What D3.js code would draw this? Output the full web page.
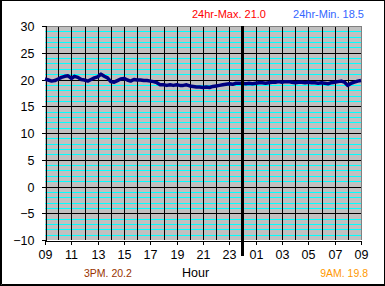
<!DOCTYPE html>
<html lang="en">
<head>
    <meta charset="UTF-8">
    <script src="https://d3js.org/d3.v7.min.js"></script>
    <title>24hr Temperature</title>
    <style>
        body { margin: 0; background: #fff; }
        text { font-family: "Liberation Sans", Arial, sans-serif; }
    </style>
</head>
<body>
    <script>
        // readings every 15 minutes, 09:00 -> 09:00 next day
        var times = [
            "09:00","09:15","09:30","09:45","10:00","10:15","10:30","10:45",
            "11:00","11:15","11:30","11:45","12:00","12:15","12:30","12:45",
            "13:00","13:15","13:30","13:45","14:00","14:15","14:30","14:45",
            "15:00","15:15","15:30","15:45","16:00","16:15","16:30","16:45",
            "17:00","17:15","17:30","17:45","18:00","18:15","18:30","18:45",
            "19:00","19:15","19:30","19:45","20:00","20:15","20:30","20:45",
            "21:00","21:15","21:30","21:45","22:00","22:15","22:30","22:45",
            "23:00","23:15","23:30","23:45","00:00","00:15","00:30","00:45",
            "01:00","01:15","01:30","01:45","02:00","02:15","02:30","02:45",
            "03:00","03:15","03:30","03:45","04:00","04:15","04:30","04:45",
            "05:00","05:15","05:30","05:45","06:00","06:15","06:30","06:45",
            "07:00","07:15","07:30","07:45","08:00","08:15","08:30","08:45",
            "09:00"
        ];
        var temps = [
            20.1, 19.9, 19.7, 19.8, 20.1, 20.4, 20.6, 20.7,
            20.2, 20.6, 20.4, 20.0, 19.9, 19.7, 20.0, 20.3,
            20.5, 21.0, 20.6, 20.3, 19.6, 19.5, 19.8, 20.1,
            20.2, 19.9, 19.7, 20.0, 19.9, 19.9, 19.8, 19.8,
            19.7, 19.6, 19.4, 19.0, 19.0, 18.9, 19.0, 18.9,
            19.0, 18.9, 18.9, 19.0, 18.8, 18.7, 18.6, 18.6,
            18.5, 18.6, 18.5, 18.7, 18.8, 18.9, 19.0, 19.1,
            19.2, 19.1, 19.3, 19.3, 19.3, 19.2, 19.3, 19.2,
            19.3, 19.4, 19.4, 19.3, 19.4, 19.5, 19.5, 19.6,
            19.5, 19.6, 19.6, 19.5, 19.4, 19.5, 19.5, 19.4,
            19.5, 19.4, 19.4, 19.3, 19.4, 19.3, 19.2, 19.4,
            19.5, 19.6, 19.7, 19.5, 18.9, 19.3, 19.5, 19.7,
            19.8
        ];
        var hourTicks = ["09","11","13","15","17","19","21","23","01","03","05","07","09"];
        var yTicks = [30, 25, 20, 15, 10, 5, 0, -5, -10];
        var notes = {
            max: "24hr-Max. 21.0",
            min: "24hr-Min. 18.5",
            pm: "3PM. 20.2",
            am: "9AM. 19.8"
        };

        var width = 385, height = 286;
        var plotLeft = 45, plotRight = 361, plotTop = 26, plotBottom = 240;

        // hours since the first reading
        var toHours = function(t, i) {
            var p = t.split(":");
            var h = +p[0] + p[1] / 60 - 9;
            if (h < 0 || (i > 0 && h === 0)) h += 24;
            return h;
        };
        var data = times.map(function(t, i) {
            return { h: toHours(t, i), v: temps[i] };
        });

        var xScale = d3.scaleLinear().domain([0, 24]).range([plotLeft, plotRight]);
        var yScale = d3.scaleLinear().domain([-10, 30]).range([plotBottom, plotTop]);
        var px = function(v) { return Math.round(v) + 0.5; };

        var svg = d3.select("body").append("svg")
            .attr("width", width)
            .attr("height", height);

        // outer frame
        svg.append("rect")
            .attr("x", 0.5).attr("y", 0.5)
            .attr("width", width - 1).attr("height", height - 1)
            .attr("fill", "#fff").attr("stroke", "#000");
        svg.append("path")
            .attr("d", "M1.5,1V284.5H384")
            .attr("fill", "none").attr("stroke", "#000");

        // plot background
        svg.append("rect")
            .attr("x", plotLeft).attr("y", plotTop)
            .attr("width", plotRight - plotLeft).attr("height", plotBottom - plotTop)
            .attr("fill", "#c0c0c0");

        var grid = svg.append("g").attr("shape-rendering", "crispEdges");

        // minor gridlines every degree
        grid.selectAll(".minor")
            .data(d3.range(-9, 30).filter(function(d) { return d % 5 !== 0; }))
            .enter().append("line")
            .attr("x1", plotLeft).attr("x2", plotRight)
            .attr("y1", function(d) { return px(yScale(d)); })
            .attr("y2", function(d) { return px(yScale(d)); })
            .attr("stroke", "#00ffff");

        // major gridlines
        grid.selectAll(".major")
            .data(yTicks.filter(function(d) { return d > -10 && d < 30; }))
            .enter().append("line")
            .attr("x1", plotLeft).attr("x2", plotRight)
            .attr("y1", function(d) { return px(yScale(d)); })
            .attr("y2", function(d) { return px(yScale(d)); })
            .attr("stroke", "#000");

        // hourly verticals
        grid.selectAll(".vert")
            .data(d3.range(1, 24))
            .enter().append("line")
            .attr("x1", function(d) { return px(xScale(d)); })
            .attr("x2", function(d) { return px(xScale(d)); })
            .attr("y1", plotTop).attr("y2", plotBottom)
            .attr("stroke", "#000");

        // plot border top / right
        grid.append("path")
            .attr("d", "M" + plotLeft + "," + (plotTop + 0.5) + "H" + (plotRight + 0.5) + "V" + plotBottom)
            .attr("fill", "none").attr("stroke", "#808080");

        // y axis
        var yAxis = d3.axisLeft(yScale)
            .tickValues(yTicks)
            .tickSize(4)
            .tickPadding(7)
            .tickFormat(d3.format("d"));
        var gy = svg.append("g")
            .attr("transform", "translate(" + (plotLeft + 0.5) + ",0)")
            .call(yAxis);

        // x axis
        var xAxis = d3.axisBottom(xScale)
            .tickValues(d3.range(0, 25, 2))
            .tickSize(4)
            .tickPadding(6)
            .tickFormat(function(d, i) { return hourTicks[i]; });
        var gx = svg.append("g")
            .attr("transform", "translate(0," + (plotBottom + 0.5) + ")")
            .call(xAxis);

        [gy, gx].forEach(function(g) {
            g.attr("shape-rendering", "crispEdges");
            g.select(".domain").attr("stroke", "#000");
            g.selectAll(".tick line").attr("stroke", "#000");
            g.selectAll("text")
                .attr("font-family", "'Liberation Sans', Arial, sans-serif")
                .attr("font-size", "12.5px")
                .attr("fill", "#000");
        });
        gy.selectAll(".tick").attr("transform", function(d) {
            return "translate(0," + px(yScale(d)) + ")";
        });
        gx.selectAll(".tick").attr("transform", function(d) {
            return "translate(" + px(xScale(d)) + ",0)";
        });

        // temperature trace
        var line = d3.line()
            .x(function(d) { return xScale(d.h); })
            .y(function(d) { return yScale(d.v); });

        svg.append("path")
            .datum(data)
            .attr("d", line)
            .attr("fill", "none")
            .attr("stroke", "#000080")
            .attr("stroke-width", 3.5)
            .attr("stroke-linejoin", "round");

        // midnight marker
        svg.append("line")
            .attr("x1", xScale(15)).attr("x2", xScale(15))
            .attr("y1", plotTop).attr("y2", 256)
            .attr("stroke", "#000")
            .attr("stroke-width", 3);

        // notes
        svg.append("text")
            .attr("x", 192).attr("y", 18)
            .attr("font-size", "11px")
            .attr("fill", "#ff0000")
            .text(notes.max);
        svg.append("text")
            .attr("x", 364).attr("y", 18)
            .attr("text-anchor", "end")
            .attr("font-size", "11px")
            .attr("fill", "#3366ff")
            .text(notes.min);
        svg.append("text")
            .attr("x", 84).attr("y", 277)
            .attr("font-size", "10.5px")
            .attr("fill", "#993300")
            .text(notes.pm);
        svg.append("text")
            .attr("x", 182).attr("y", 277)
            .attr("font-size", "12.5px")
            .attr("fill", "#000")
            .text("Hour");
        svg.append("text")
            .attr("x", 368).attr("y", 277)
            .attr("text-anchor", "end")
            .attr("font-size", "10.5px")
            .attr("fill", "#ff9900")
            .text(notes.am);
    </script>
</body>
</html>
